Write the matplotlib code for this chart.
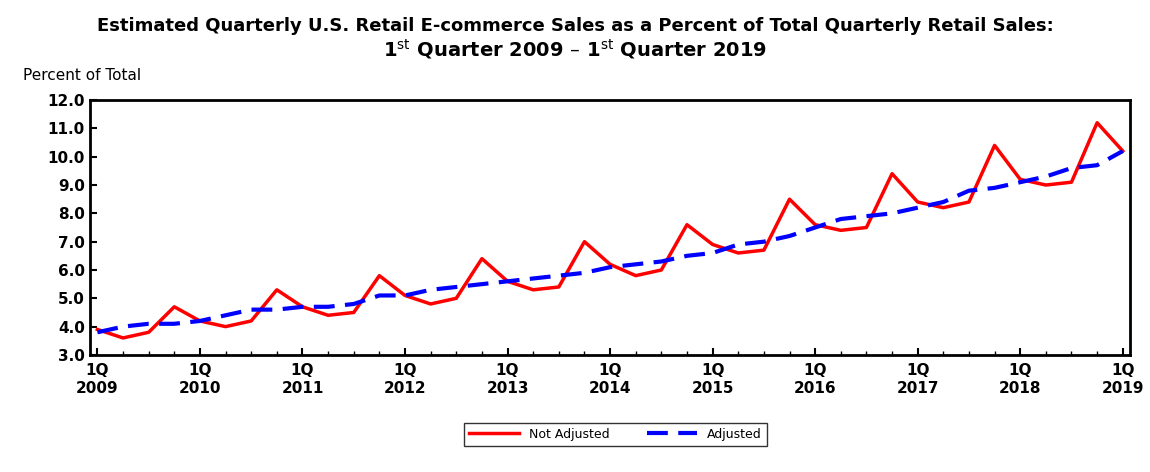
import numpy as np
import matplotlib.pyplot as plt

years = list(range(2009, 2020))
not_adjusted = [3.9, 3.6, 3.8, 4.7, 4.2, 4.0, 4.2, 5.3, 4.7, 4.4, 4.5, 5.8,
                5.1, 4.8, 5.0, 6.4, 5.6, 5.3, 5.4, 7.0, 6.2, 5.8, 6.0, 7.6,
                6.9, 6.6, 6.7, 8.5, 7.6, 7.4, 7.5, 9.4, 8.4, 8.2, 8.4, 10.4,
                9.2, 9.0, 9.1, 11.2, 10.2]
adjusted = [3.8, 4.0, 4.1, 4.1, 4.2, 4.4, 4.6, 4.6, 4.7, 4.7, 4.8, 5.1,
            5.1, 5.3, 5.4, 5.5, 5.6, 5.7, 5.8, 5.9, 6.1, 6.2, 6.3, 6.5,
            6.6, 6.9, 7.0, 7.2, 7.5, 7.8, 7.9, 8.0, 8.2, 8.4, 8.8, 8.9,
            9.1, 9.3, 9.6, 9.7, 10.2]

plt.rcParams['font.family'] = ['DejaVu Sans']
fig = plt.figure(figsize=(11.5, 4.72), dpi=100)
ax = fig.add_axes([0.078, 0.248, 0.905, 0.54])

x = np.arange(len(not_adjusted))
ax.plot(x, not_adjusted, '-', color='#ff0000', lw=2.5, label='Not Adjusted')
ax.plot(x, adjusted, '--', color='#0000ff', lw=3, dashes=(5, 2.5), label='Adjusted')

ax.set_xlim(-0.3, 40.3)
ax.set_ylim(3.0, 12.0)
ax.set_yticks(np.arange(3.0, 12.1, 1.0))
ax.set_yticklabels(['%.1f' % v for v in np.arange(3.0, 12.1, 1.0)], fontsize=11, fontweight='bold')
ax.set_xticks(x[::4])
ax.set_xticklabels(['1Q\n%d' % y for y in years], fontsize=11, fontweight='bold')
ax.set_xticks(x, minor=True)
ax.tick_params(axis='both', which='major', length=5, width=1.5, direction='in')
ax.tick_params(axis='x', which='minor', length=3, width=1, direction='in')
ax.tick_params(axis='x', pad=6)
for s in ax.spines.values():
    s.set_linewidth(2)

fig.text(0.5, 0.935, 'Estimated Quarterly U.S. Retail E-commerce Sales as a Percent of Total Quarterly Retail Sales:',
         ha='center', fontsize=13, fontweight='bold')
fig.text(0.5, 0.88, r'1$^{\mathrm{st}}$ Quarter 2009 – 1$^{\mathrm{st}}$ Quarter 2019',
         ha='center', fontsize=14, fontweight='bold')
fig.text(0.02, 0.83, 'Percent of Total', fontsize=11)

leg = fig.legend(loc='center', bbox_to_anchor=(0.535, 0.08), ncol=2, fontsize=9,
                 frameon=True, fancybox=False, edgecolor='black', handlelength=4,
                 columnspacing=3)
leg.get_frame().set_linewidth(1)

fig.savefig('out.png', dpi=100)
